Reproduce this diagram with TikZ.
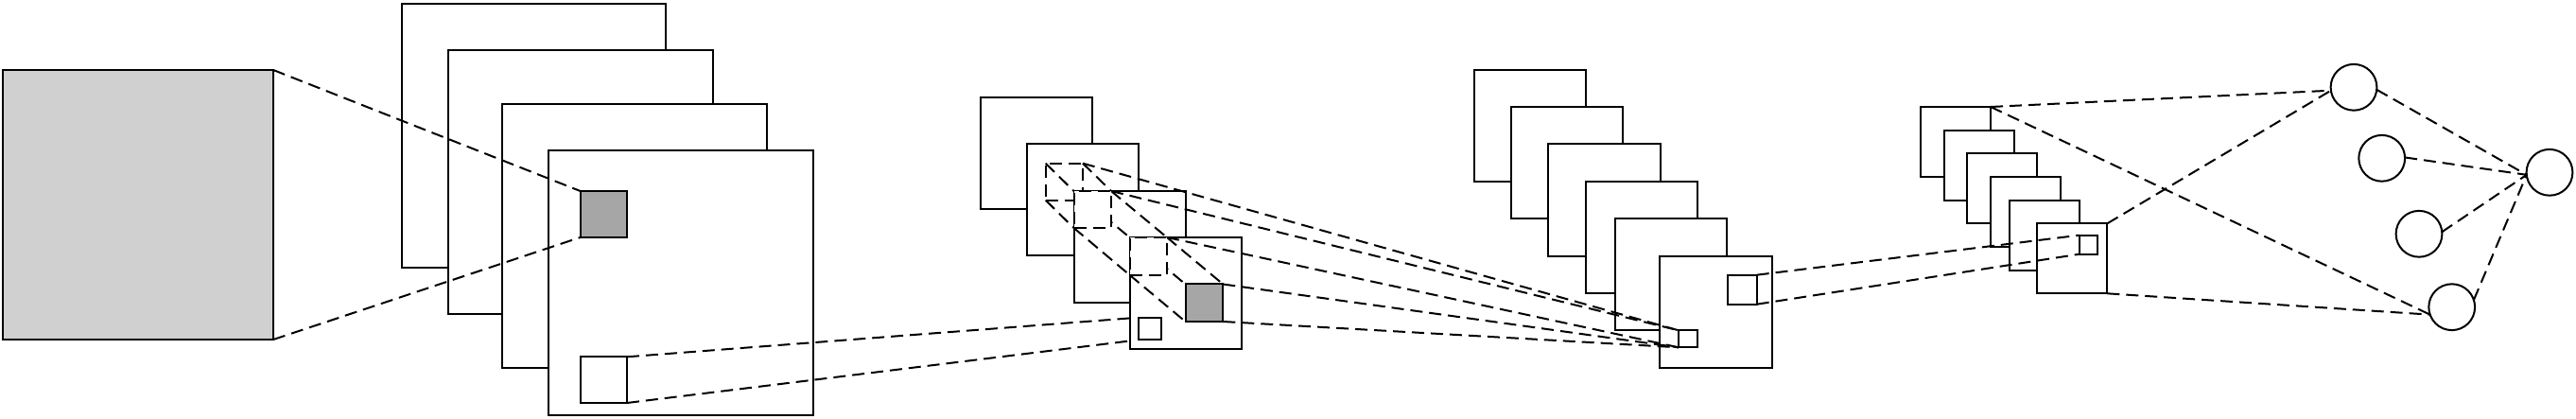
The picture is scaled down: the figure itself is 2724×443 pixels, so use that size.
\documentclass[tikz,border=0pt]{standalone}
\pgfdeclarelayer{bgA}
\pgfdeclarelayer{lbthree}
\pgfdeclarelayer{sgthreefour}
\pgfdeclarelayer{lsthree}
\pgfdeclarelayer{lbfour}
\pgfdeclarelayer{sgfourg}
\pgfdeclarelayer{lsfour}
\pgfsetlayers{bgA,lbthree,sgthreefour,lsthree,lbfour,sgfourg,lsfour,main}
\definecolor{ingray}{RGB}{208,208,208}
\definecolor{fgray}{RGB}{166,166,166}
\tikzset{
  lay/.style={rectangle,draw=black,line width=2pt,fill=white,inner sep=0pt,outer sep=0pt},
  dsq/.style={lay,dash pattern=on 13pt off 7pt},
  conn/.style={draw=black,line width=2pt,dash pattern=on 13pt off 7pt},
  neuron/.style={circle,draw=black,line width=2pt,fill=white,minimum size=48.8pt,inner sep=0pt,outer sep=0pt}
}
\newcommand\bx[6][]{\node[lay,#1,minimum width={#5-#3},minimum height={#6-#4}] (#2) at ({(#3+#5)/2},{(#4+#6)/2}) {};}
\begin{document}
\begin{tikzpicture}[x=1pt,y=-1pt]
\useasboundingbox (0,0) rectangle (2724,443);
% ---------- nodes ----------
\begin{pgfonlayer}{bgA}
  \bx[fill=ingray]{inp}{3}{74}{289}{359}
  \bx{a1}{424.8}{4}{704.3}{283.3}
  \bx{a2}{473.5}{52.7}{753.7}{332.3}
  \bx{a3}{531}{109.7}{811}{389.3}
  \bx{a4}{580.3}{159.3}{859.8}{438.7}
  \bx[fill=fgray]{g1}{613.6}{202}{663}{251}
  \bx{w1}{613.6}{377.3}{663}{426}
  \bx{b1}{1037}{103.3}{1155.3}{221.3}
  \bx{b2}{1086.3}{152.3}{1204.3}{270.3}
  \bx[dsq,fill=none]{s2}{1105.7}{172.7}{1145}{211.7}
\end{pgfonlayer}
\begin{pgfonlayer}{lbthree}
  \bx{b3}{1135.5}{202}{1253.5}{320}
\end{pgfonlayer}
\begin{pgfonlayer}{lsthree}
  \bx[dsq]{s3}{1135.5}{202}{1175}{241}
\end{pgfonlayer}
\begin{pgfonlayer}{lbfour}
  \bx{b4}{1194.5}{251}{1312.7}{369}
\end{pgfonlayer}
\begin{pgfonlayer}{lsfour}
  \bx[dsq]{s4}{1194.5}{251}{1234}{290.7}
\end{pgfonlayer}
\bx[fill=fgray]{g2}{1253.5}{300.5}{1293.3}{340}
\bx{w2}{1204}{335.7}{1228.3}{359.3}
% layer 3
\bx{c1}{1558.7}{73.7}{1676.7}{192}
\bx{c2}{1598}{113}{1716.3}{231.3}
\bx{c3}{1637.3}{152.3}{1755.7}{270.7}
\bx{c4}{1676.7}{192}{1795}{310}
\bx{c5}{1708.3}{231.3}{1826.3}{349.3}
\bx{c6}{1755.3}{270.7}{1873.7}{388.7}
\bx{p3}{1775}{349.3}{1795}{367.3}
\bx{q3}{1826.7}{290.7}{1857.7}{321.7}
% layer 4
\bx{d1}{2031}{113}{2105}{187}
\bx{d2}{2055.7}{137.7}{2129.7}{211.7}
\bx{d3}{2080.3}{162.3}{2154.3}{236.3}
\bx{d4}{2105}{187}{2179}{261}
\bx{d5}{2124.7}{211.7}{2198.7}{285.7}
\bx{d6}{2154.3}{236.3}{2228.3}{310.3}
\bx{q4}{2198.7}{248.7}{2218.3}{268.7}
% neurons
\node[neuron] (n1) at (2489,92.3) {};
\node[neuron] (n2) at (2518.7,167.3) {};
\node[neuron] (n3) at (2558,247.3) {};
\node[neuron] (n4) at (2592.7,324.7) {};
\node[neuron] (n5) at (2696,182.3) {};
% ---------- connectors ----------
\begin{pgfonlayer}{bgA}
  \draw[conn] (inp.north east) -- (g1.north west);
  \draw[conn] (inp.south east) -- (g1.south west);
  \draw[conn] (w1.north east) -- (w2.north west);
  \draw[conn] (w1.south east) -- (w2.south west);
  \draw[conn] (s2.north west) -- (s3.north west);
  \draw[conn] (s2.north east) -- (s3.north east);
  \draw[conn] (s2.south west) -- (s3.south west);
\end{pgfonlayer}
\begin{pgfonlayer}{sgthreefour}
  \draw[conn] (s3.north west) -- (s4.north west);
  \draw[conn] (s3.north east) -- (s4.north east);
  \draw[conn] (s3.south west) -- (s4.south west);
\end{pgfonlayer}
\begin{pgfonlayer}{sgfourg}
  \draw[conn] (s4.north west) -- (g2.north west);
  \draw[conn] (s4.north east) -- (g2.north east);
  \draw[conn] (s4.south west) -- (g2.south west);
\end{pgfonlayer}
\draw[conn] (s2.north east) -- (p3.north west);
\draw[conn] (s3.north east) -- (p3.north west);
\draw[conn] (s4.north east) -- (p3.south west);
\draw[conn] (g2.north east) -- (p3.south west);
\draw[conn] (g2.south east) -- (p3.south west);
\draw[conn] (q3.north east) -- (q4.north west);
\draw[conn] (q3.south east) -- (q4.south west);
\draw[conn] (d1.north east) -- (n1.188);
\draw[conn] (d6.north east) -- (n1.188);
\draw[conn] (d1.north east) -- (n4.199);
\draw[conn] (d6.south east) -- (n4.199);
\draw[conn] (n1.-6) -- (n5.186);
\draw[conn] (n2.2) -- (n5.186);
\draw[conn] (n3.5) -- (n5.186);
\draw[conn] (n4.18) -- (n5.186);
\end{tikzpicture}
\end{document}
